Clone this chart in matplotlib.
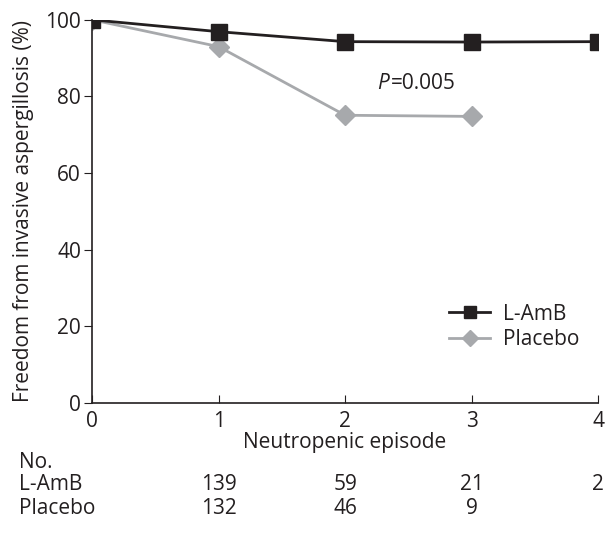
import matplotlib
matplotlib.use("Agg")
import matplotlib.pyplot as plt
from matplotlib.transforms import blended_transform_factory

# values
episodes = [0, 1, 2, 3, 4]
lamb = [100, 96.9, 94.3, 94.2, 94.3]
placebo_x = [0, 1, 2, 3]
placebo = [100, 93.0, 75.1, 74.8]

at_risk_x = [1, 2, 3, 4]
at_risk_lamb = ["139", "59", "21", "2"]
at_risk_placebo = ["132", "46", "9", ""]

BLACK = "#231f20"
GREY = "#a7a9ac"
TXT = "#231f20"
FS = 15

plt.rcParams["font.family"] = ["Open Sans", "DejaVu Sans"]
plt.rcParams["font.size"] = FS

fig = plt.figure(figsize=(6.06, 5.5), dpi=100)
ax = fig.add_axes([0.152, 0.267, 0.835, 0.697])

ax.plot(episodes, lamb, color=BLACK, lw=2, marker="s", ms=11,
        label="L-AmB", zorder=3)
ax.plot(placebo_x, placebo, color=GREY, lw=2, marker="D", ms=10,
        label="Placebo", zorder=2)

ax.set_xlim(0, 4)
ax.set_ylim(0, 100)
ax.set_xticks(episodes)
ax.set_yticks([0, 20, 40, 60, 80, 100])
ax.spines["top"].set_visible(False)
ax.spines["right"].set_visible(False)
for s in ("left", "bottom"):
    ax.spines[s].set_color(BLACK)
    ax.spines[s].set_linewidth(1.2)
ax.tick_params(axis="x", direction="in", length=6, color=BLACK,
               labelcolor=TXT, labelsize=FS, pad=6)
ax.tick_params(axis="y", direction="out", length=6, color=BLACK,
               labelcolor=TXT, labelsize=FS, pad=2)
for lab in ax.get_xticklabels() + ax.get_yticklabels():
    lab.set_clip_on(False)

ax.set_xlabel("Neutropenic episode", color=TXT, fontsize=FS, labelpad=0)
ax.set_ylabel("Freedom from invasive aspergillosis (%)", color=TXT,
              fontsize=FS, labelpad=8)

ax.text(2.25, 83.5, "P", color=TXT, fontsize=FS, va="center",
        ha="left", style="italic")
ax.text(2.36, 83.5, "=0.005", color=TXT, fontsize=FS, va="center",
        ha="left")

ax.legend(loc="lower right", bbox_to_anchor=(1.0, 0.09), frameon=False,
          handlelength=2.0, fontsize=FS, labelspacing=0.2,
          handletextpad=0.6, labelcolor=TXT)
for h in ax.get_legend().legend_handles:
    h.set_markersize(8)

# numbers at risk
tr = blended_transform_factory(ax.transData, fig.transFigure)
fig.text(0.032, 1 - 462 / 550, "No.", color=TXT, fontsize=FS, va="center")
fig.text(0.032, 1 - 485 / 550, "L-AmB", color=TXT, fontsize=FS, va="center")
fig.text(0.032, 1 - 508 / 550, "Placebo", color=TXT, fontsize=FS, va="center")
for x, a, b in zip(at_risk_x, at_risk_lamb, at_risk_placebo):
    ax.text(x, 1 - 485 / 550, a, transform=tr, color=TXT, fontsize=FS,
            ha="center", va="center", clip_on=False)
    ax.text(x, 1 - 508 / 550, b, transform=tr, color=TXT, fontsize=FS,
            ha="center", va="center", clip_on=False)

fig.savefig("out.png", dpi=100)
